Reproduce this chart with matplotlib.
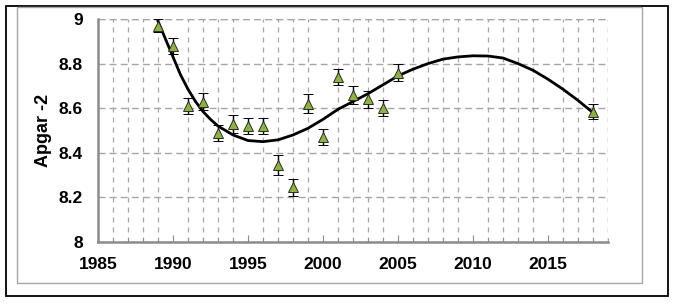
import matplotlib.pyplot as plt
from matplotlib.patches import Rectangle
from matplotlib.ticker import MultipleLocator

# mesures (annee, Apgar-2)
annees = [1989, 1990, 1991, 1992, 1993, 1994, 1995, 1996, 1997, 1998,
          1999, 2000, 2001, 2002, 2003, 2004, 2005, 2018]
apgar = [8.97, 8.88, 8.61, 8.63, 8.49, 8.53, 8.52, 8.52, 8.345, 8.245,
         8.62, 8.47, 8.74, 8.66, 8.64, 8.60, 8.76, 8.585]
erreur = [0.03, 0.035, 0.035, 0.04, 0.035, 0.04, 0.037, 0.037, 0.043, 0.037,
          0.043, 0.037, 0.037, 0.04, 0.037, 0.037, 0.04, 0.035]

# courbe de tendance
tend_x = [1989, 1989.5, 1990, 1990.5, 1991, 1991.5, 1992, 1992.5, 1993, 1994, 1995,
          1996, 1997, 1998, 1999, 2000, 2001, 2002, 2003, 2004, 2005,
          2006, 2007, 2008, 2009, 2010, 2011, 2012, 2013, 2014, 2015,
          2016, 2017, 2018]
tend_y = [8.99, 8.91, 8.83, 8.75, 8.685, 8.63, 8.585, 8.55, 8.52, 8.48, 8.455,
          8.45, 8.458, 8.48, 8.51, 8.55, 8.595, 8.63, 8.665, 8.705, 8.745,
          8.775, 8.80, 8.82, 8.83, 8.835, 8.834, 8.825, 8.80, 8.77, 8.73,
          8.685, 8.635, 8.58]

plt.rcParams['font.family'] = ['Liberation Sans', 'DejaVu Sans']

fig = plt.figure(figsize=(6.79, 3.04), dpi=100)
ax = fig.add_axes([98/679, 1-242/304, 510/679, 223/304])

# cadres
fig.patches.append(Rectangle((6/679, 1-296/304), 662/679, 290/304,
                             transform=fig.transFigure, fill=False,
                             edgecolor='black', linewidth=1.3))
fig.patches.append(Rectangle((17/679, 1-283/304), 625/679, 276/304,
                             transform=fig.transFigure, fill=False,
                             edgecolor='#a6a6a6', linewidth=1.0))

ax.plot(tend_x, tend_y, color='black', linewidth=2.0, zorder=3)
ax.errorbar(annees, apgar, yerr=erreur, fmt='^', color='black',
            markerfacecolor='#8cb33d', markeredgecolor='#2b2b2b',
            markersize=6.5, markeredgewidth=0.7, ecolor='black',
            elinewidth=1.0, capsize=3.5, capthick=1.0, zorder=4)

ax.set_xlim(1985, 2019)
ax.set_ylim(8, 9)
ax.xaxis.set_major_locator(MultipleLocator(5))
ax.xaxis.set_minor_locator(MultipleLocator(1))
ax.set_yticks([8, 8.2, 8.4, 8.6, 8.8, 9])
ax.set_yticklabels(['8', '8.2', '8.4', '8.6', '8.8', '9'])

ax.grid(True, which='major', axis='y', color='#a6a6a6', linestyle=(0, (5, 3)), linewidth=1.0)
ax.grid(True, which='minor', axis='x', color='#a6a6a6', linestyle=(0, (4, 4)), linewidth=0.9)
ax.axhline(9, color='#a6a6a6', linestyle=(0, (5, 3)), linewidth=1.0, zorder=1)
ax.axvline(2019, color='#a6a6a6', linestyle=(0, (4, 4)), linewidth=0.9, zorder=1)
ax.set_axisbelow(True)

for s in ['top', 'right']:
    ax.spines[s].set_visible(False)
for s in ['left', 'bottom']:
    ax.spines[s].set_color('#8c8c8c')
    ax.spines[s].set_linewidth(1.8)

ax.tick_params(axis='x', which='major', direction='in', length=5, color='#8c8c8c',
               labelsize=12.5, pad=11)
ax.tick_params(axis='x', which='minor', direction='in', length=3, color='#8c8c8c')
ax.tick_params(axis='y', which='both', length=0, labelsize=12.5, pad=11)
for lab in ax.get_xticklabels() + ax.get_yticklabels():
    lab.set_fontweight('bold')

ax.set_ylabel('Apgar -2', fontsize=13, fontweight='bold', labelpad=5)

fig.savefig('out.png', dpi=100)
